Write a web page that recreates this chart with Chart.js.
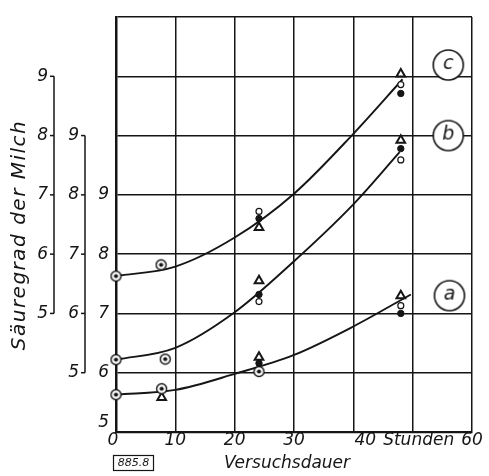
<!DOCTYPE html>
<html>
<head>
<meta charset="utf-8">
<script src="https://cdn.jsdelivr.net/npm/chart.js@4.4.1/dist/chart.umd.min.js"></script>
<style>
  html, body { margin: 0; padding: 0; background: #fff; }
</style>
</head>
<body>
<canvas id="chart" width="489" height="476"></canvas>
<script>
// Versuchsdauer (hours) ticks and Säuregrad ticks
const hourTicks = [0, 10, 20, 30, 40, 50, 60];
const hourLabels = ['0', '10', '20', '30', '40', 'Stunden', '60'];
const acidTicks = [5, 6, 7, 8, 9];

// fitted curves, each in its own acidity scale
const curveAHours = [0, 10, 20, 30, 40, 49.7];
const curveAValues = [5.63, 5.71, 5.98, 6.3, 6.78, 7.32];
const curveBHours = [0, 10, 20, 30, 40, 47.8];
const curveBValues = [5.22, 5.42, 6.02, 6.88, 7.84, 8.72];
const curveCHours = [0, 10, 20, 30, 40, 48.3];
const curveCValues = [5.63, 5.79, 6.28, 7.02, 8.03, 8.95];

// measured points (a)
const aDotRingHours = [0, 7.7, 24.1];
const aDotRingValues = [5.63, 5.73, 6.02];
const aTriangleHours = [7.7, 24.1, 48];
const aTriangleValues = [5.58, 6.26, 7.3];
const aFilledHours = [24.1, 48];
const aFilledValues = [6.16, 7.0];
const aOpenHours = [48];
const aOpenValues = [7.13];

// measured points (b)
const bDotRingHours = [0, 8.3];
const bDotRingValues = [5.22, 5.23];
const bTriangleHours = [24.1, 48];
const bTriangleValues = [6.55, 8.92];
const bFilledHours = [24.1, 48];
const bFilledValues = [6.32, 8.78];
const bOpenHours = [24.1, 48];
const bOpenValues = [6.2, 8.59];

// measured points (c)
const cDotRingHours = [0, 7.6];
const cDotRingValues = [5.63, 5.82];
const cTriangleHours = [24.1, 48];
const cTriangleValues = [6.45, 9.04];
const cFilledHours = [24.1, 48];
const cFilledValues = [6.6, 8.71];
const cOpenHours = [24.1, 48];
const cOpenValues = [6.72, 8.86];

// curve name badges
const badgeLetters = ['a', 'b', 'c'];
const badgeHours = [56.2, 56, 56];
const badgeValues = [7.3, 9.0, 9.19];

const INK = '#151515';
const FONT = '"DejaVu Sans", sans-serif';

function zip(xs, ys) {
    return xs.map((x, i) => ({ x: x, y: ys[i] }));
}

function dotRing() {
    const c = document.createElement('canvas');
    c.width = 13; c.height = 13;
    const g = c.getContext('2d');
    g.strokeStyle = INK; g.fillStyle = '#fff'; g.lineWidth = 1.4;
    g.beginPath(); g.arc(6.5, 6.5, 5, 0, Math.PI * 2); g.fill(); g.stroke();
    g.fillStyle = INK;
    g.beginPath(); g.arc(6.5, 6.5, 2.1, 0, Math.PI * 2); g.fill();
    return c;
}

function badge(letter) {
    const c = document.createElement('canvas');
    c.width = 34; c.height = 34;
    const g = c.getContext('2d');
    g.fillStyle = '#fff'; g.strokeStyle = INK; g.lineWidth = 1.6;
    g.beginPath(); g.arc(17, 17, 15, 0, Math.PI * 2); g.fill(); g.stroke();
    g.fillStyle = INK;
    g.font = 'oblique 19px ' + FONT;
    g.textAlign = 'center'; g.textBaseline = 'middle';
    g.fillText(letter, 17, 16);
    return c;
}

const ringStyle = dotRing();

function curve(xs, ys, axis) {
    return {
        data: zip(xs, ys), yAxisID: axis, showLine: true,
        borderColor: INK, borderWidth: 1.9, pointRadius: 0,
        tension: 0.4, cubicInterpolationMode: 'monotone', order: 3
    };
}

function markers(xs, ys, axis, kind) {
    const ds = { data: zip(xs, ys), yAxisID: axis, showLine: false, order: 1, borderColor: INK, clip: false };
    if (kind === 'ring') {
        Object.assign(ds, { pointStyle: ringStyle, pointRadius: 6 });
    } else if (kind === 'triangle') {
        Object.assign(ds, { pointStyle: 'triangle', pointRadius: 5, borderWidth: 2, backgroundColor: '#fff' });
    } else if (kind === 'filled') {
        Object.assign(ds, { pointStyle: 'circle', pointRadius: 3.2, borderWidth: 1, backgroundColor: INK });
    } else {
        Object.assign(ds, { pointStyle: 'circle', pointRadius: 3, borderWidth: 1.2, backgroundColor: '#fff' });
    }
    return ds;
}

const badgeAxes = ['y', 'yB', 'yC'];
const badgeSets = badgeLetters.map((letter, i) => ({
    data: [{ x: badgeHours[i], y: badgeValues[i] }], yAxisID: badgeAxes[i],
    pointStyle: badge(letter), pointRadius: 16, showLine: false, order: 0
}));

// side scales and free text, placed through the chart's scales
const decor = {
    id: 'decor',
    afterDraw(chart) {
        const ctx = chart.ctx;
        const sx = chart.scales.x, yA = chart.scales.y, yB = chart.scales.yB, yC = chart.scales.yC;
        ctx.save();
        ctx.fillStyle = INK; ctx.strokeStyle = INK;
        ctx.font = 'oblique 17px ' + FONT;

        // x tick labels
        ctx.textAlign = 'center'; ctx.textBaseline = 'middle';
        hourTicks.forEach((h, i) => {
            let px = sx.getPixelForValue(h);
            if (hourLabels[i] === '40') px += 12;
            if (hourLabels[i] === 'Stunden') px += 6;
            if (h === 0) px -= 3;
            ctx.fillText(hourLabels[i], px, 441);
        });

        // inner scale (a)
        ctx.textAlign = 'right';
        acidTicks.forEach(v => {
            let py = yA.getPixelForValue(v);
            if (v === acidTicks[0]) py -= 9;
            ctx.fillText(String(v), 109, py);
        });

        // middle (b) and outer (c) scales
        [[yB, 85], [yC, 54]].forEach(([sc, lx]) => {
            const top = sc.getPixelForValue(acidTicks[acidTicks.length - 1]);
            const bot = sc.getPixelForValue(acidTicks[0]);
            ctx.lineWidth = 1.5;
            ctx.beginPath(); ctx.moveTo(lx, top); ctx.lineTo(lx, bot); ctx.stroke();
            acidTicks.forEach(v => {
                const py = sc.getPixelForValue(v);
                ctx.beginPath(); ctx.moveTo(lx - 4, py); ctx.lineTo(lx, py); ctx.stroke();
                ctx.fillText(String(v), lx - 6, py);
            });
        });

        // axis titles
        ctx.textAlign = 'center';
        ctx.fillText('Versuchsdauer', 287, 464);
        ctx.save();
        ctx.translate(20, 235);
        ctx.rotate(-Math.PI / 2);
        ctx.font = 'oblique 20px ' + FONT;
        ctx.letterSpacing = '1.5px';
        ctx.fillText('Säuregrad der Milch', 0, 0);
        ctx.restore();

        // figure number box
        ctx.lineWidth = 1.2;
        ctx.strokeRect(113.5, 455.5, 40, 15);
        ctx.font = 'oblique 11px ' + FONT;
        ctx.fillText('885.8', 133.5, 463.5);
        ctx.restore();
    }
};

const gridStyle = { color: INK, lineWidth: 1.5, drawTicks: false };

new Chart(document.getElementById('chart'), {
    type: 'scatter',
    data: {
        datasets: [
            curve(curveAHours, curveAValues, 'y'),
            curve(curveBHours, curveBValues, 'yB'),
            curve(curveCHours, curveCValues, 'yC'),
            markers(aDotRingHours, aDotRingValues, 'y', 'ring'),
            markers(aTriangleHours, aTriangleValues, 'y', 'triangle'),
            markers(aFilledHours, aFilledValues, 'y', 'filled'),
            markers(aOpenHours, aOpenValues, 'y', 'open'),
            markers(bDotRingHours, bDotRingValues, 'yB', 'ring'),
            markers(bTriangleHours, bTriangleValues, 'yB', 'triangle'),
            markers(bFilledHours, bFilledValues, 'yB', 'filled'),
            markers(bOpenHours, bOpenValues, 'yB', 'open'),
            markers(cDotRingHours, cDotRingValues, 'yC', 'ring'),
            markers(cTriangleHours, cTriangleValues, 'yC', 'triangle'),
            markers(cFilledHours, cFilledValues, 'yC', 'filled'),
            markers(cOpenHours, cOpenValues, 'yC', 'open'),
            ...badgeSets
        ]
    },
    options: {
        responsive: false,
        animation: false,
        devicePixelRatio: 1,
        layout: { padding: { left: 116, right: 14, top: 12, bottom: 44 } },
        plugins: { legend: { display: false }, tooltip: { enabled: false } },
        scales: {
            x: {
                type: 'linear', min: 0, max: 60,
                ticks: { display: false, stepSize: 10 },
                grid: gridStyle,
                border: { color: INK, width: 2.2 }
            },
            y: {
                type: 'linear', position: 'left', min: 5, max: 12,
                ticks: { display: false, stepSize: 1 },
                grid: gridStyle,
                border: { color: INK, width: 2.5 }
            },
            yB: { type: 'linear', display: false, min: 4, max: 11 },
            yC: { type: 'linear', display: false, min: 3, max: 10 }
        }
    },
    plugins: [decor]
});
</script>
</body>
</html>
